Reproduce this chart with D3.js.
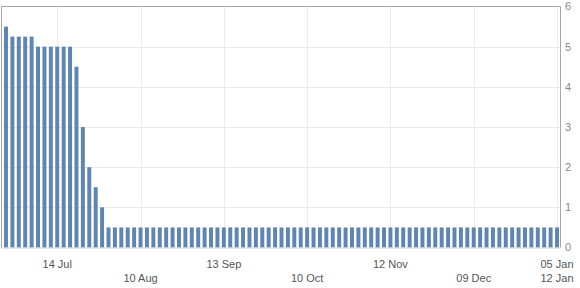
<!DOCTYPE html>
<html>
<head>
<meta charset="utf-8">
<script src="https://cdn.jsdelivr.net/npm/d3@7"></script>
<style>
  body { margin: 0; background: #fff; }
  svg { display: block; font-family: "Liberation Sans", Arial, sans-serif; }
</style>
</head>
<body>
<div id="chart"></div>
<script>
// bar values, one per observation
var values = [
  5.5, 5.25, 5.25, 5.25, 5.25, 5.0, 5.0, 5.0, 5.0, 5.0, 5.0, 4.5, 3.0, 2.0, 1.5, 1.0,
  0.5, 0.5, 0.5, 0.5, 0.5, 0.5, 0.5, 0.5, 0.5, 0.5, 0.5, 0.5, 0.5, 0.5, 0.5, 0.5,
  0.5, 0.5, 0.5, 0.5, 0.5, 0.5, 0.5, 0.5, 0.5, 0.5, 0.5, 0.5, 0.5, 0.5, 0.5, 0.5,
  0.5, 0.5, 0.5, 0.5, 0.5, 0.5, 0.5, 0.5, 0.5, 0.5, 0.5, 0.5, 0.5, 0.5, 0.5, 0.5,
  0.5, 0.5, 0.5, 0.5, 0.5, 0.5, 0.5, 0.5, 0.5, 0.5, 0.5, 0.5, 0.5, 0.5, 0.5, 0.5,
  0.5, 0.5, 0.5, 0.5, 0.5, 0.5, 0.5
];
// x tick positions (bar index) and labels, row 0 = upper, row 1 = lower
var tickIndex = [8, 21, 34, 47, 60, 73, 86, 86];
var tickLabels = ["14 Jul", "10 Aug", "13 Sep", "10 Oct", "12 Nov", "09 Dec", "05 Jan", "12 Jan"];
var tickRow = [0, 1, 0, 1, 0, 1, 0, 1];
var yTicks = [0, 1, 2, 3, 4, 5, 6];

var W = 580, H = 288;
var plot = { left: 1.5, right: 560.5, top: 6.5, bottom: 247.5 };

var svg = d3.select("#chart").append("svg")
  .attr("width", W)
  .attr("height", H);

var x = d3.scaleBand()
  .domain(d3.range(values.length))
  .range([4, 559])
  .paddingInner(0.38)
  .paddingOuter(0);

var y = d3.scaleLinear()
  .domain([0, 6])
  .range([plot.bottom, plot.top]);

// horizontal grid
svg.append("g").selectAll("line")
  .data(yTicks.slice(1, -1))
  .enter().append("line")
  .attr("x1", plot.left).attr("x2", plot.right)
  .attr("y1", d => Math.round(y(d)) + 0.5)
  .attr("y2", d => Math.round(y(d)) + 0.5)
  .attr("stroke", "#ebebeb");

// vertical grid
svg.append("g").selectAll("line")
  .data(tickIndex.slice(0, 7))
  .enter().append("line")
  .attr("x1", d => Math.round(x(d) + x.bandwidth() / 2) + 0.5)
  .attr("x2", d => Math.round(x(d) + x.bandwidth() / 2) + 0.5)
  .attr("y1", plot.top).attr("y2", plot.bottom)
  .attr("stroke", "#ebebeb");

// bars
svg.append("g").selectAll("rect")
  .data(values)
  .enter().append("rect")
  .attr("x", (d, i) => x(i))
  .attr("y", d => y(d))
  .attr("width", x.bandwidth())
  .attr("height", d => y(0) - y(d))
  .attr("fill", "#5f86b3");

// plot frame (left, top, right)
svg.append("path")
  .attr("d", "M" + plot.left + "," + plot.bottom + "V" + plot.top + "H" + plot.right + "V" + plot.bottom)
  .attr("fill", "none")
  .attr("stroke", "#a6a6a6");

// bottom axis line
svg.append("line")
  .attr("x1", plot.left).attr("x2", plot.right)
  .attr("y1", plot.bottom + 0.5).attr("y2", plot.bottom + 0.5)
  .attr("stroke", "#c0d0e0");

// y labels on the right
svg.append("g").selectAll("text")
  .data(yTicks)
  .enter().append("text")
  .attr("x", 565)
  .attr("y", d => y(d))
  .attr("dy", "0.35em")
  .attr("font-size", "11px")
  .attr("fill", "#888")
  .text(d => d);

// x labels, two rows
svg.append("g").selectAll("text")
  .data(tickLabels)
  .enter().append("text")
  .attr("x", (d, i) => x(tickIndex[i]) + x.bandwidth() / 2)
  .attr("y", (d, i) => tickRow[i] === 0 ? 268 : 281.5)
  .attr("text-anchor", "middle")
  .attr("font-size", "11px")
  .attr("fill", "#555")
  .text(d => d);
</script>
</body>
</html>
